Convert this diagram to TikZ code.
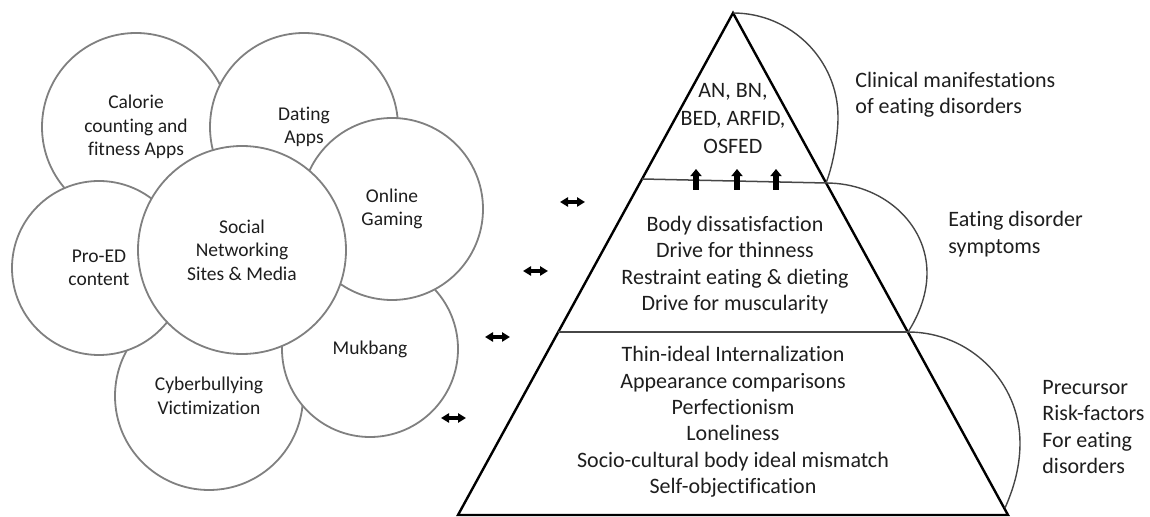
\documentclass[tikz,border=0pt]{standalone}
\usepackage{fontspec}
\setmainfont{Carlito}[Ligatures={NoCommon}]
\usetikzlibrary{arrows.meta}
\definecolor{circ}{RGB}{128,128,128}
\definecolor{txt}{RGB}{30,30,30}
\definecolor{arcc}{RGB}{70,70,70}
\begin{document}
\begin{tikzpicture}[x=0.5pt,y=-0.5pt,
  bubble/.style={circle,draw=circ,fill=white,line width=0.9pt,inner sep=0pt,align=center,text=txt,font=\fontsize{9.75}{11.75}\selectfont},
  lvl/.style={align=center,text=txt,inner sep=0pt,font=\fontsize{11}{13.2}\selectfont},
  lbl/.style={anchor=west,align=left,text=txt,inner sep=0pt,font=\fontsize{11}{13.2}\selectfont},
  dbl/.style={line width=2pt,{Triangle[length=4pt,width=4.6pt]}-{Triangle[length=4pt,width=4.6pt]}},
  uparr/.style={line width=3pt,-{Triangle[length=3.6pt,width=5.6pt]}},
  pyr/.style={line width=1.2pt,black},
  divl/.style={line width=0.75pt,arcc},
  sidearc/.style={line width=0.7pt,arcc}]
\useasboundingbox (0,0) rectangle (1150,517);
% circles
\node[bubble,minimum size=94pt] (cal) at (136,127) {Calorie\\counting and\\fitness Apps};
\node[bubble,minimum size=94pt] (dat) at (304,127) {Dating\\Apps};
\node[bubble,minimum size=94pt] (cyb) at (209,396) {Cyberbullying\\Victimization};
\node[bubble,minimum size=87pt] (pro) at (99,268) {Pro-ED\\content};
\node[bubble,minimum size=88pt] (muk) at (370,349) {Mukbang};
\node[bubble,minimum size=91pt] (onl) at (392,209) {Online\\Gaming};
\node[bubble,minimum size=104pt] (soc) at (242,250) {Social\\Networking\\Sites \& Media};
% pyramid
\coordinate (apex) at (733,13);
\coordinate (bl) at (458,515);
\coordinate (br) at (1008,515);
\coordinate (d1l) at (642,179);
\coordinate (d1r) at (826,183);
\coordinate (d2l) at (558,332);
\coordinate (d2r) at (908,332);
\coordinate (e3) at (1005,508);
\draw[pyr] (apex) -- (bl) -- (br) -- cycle;
\draw[divl] (d1l) -- (d1r);
\draw[divl] (d2l) -- (d2r);
% side arcs
\coordinate (r1) at (838,117);
\coordinate (r2) at (927,273);
\coordinate (r3) at (1020,443);
\draw[sidearc] (apex) .. controls (791,13) and (838,60) .. (r1) .. controls (838,140) and (832,168) .. (d1r);
\draw[sidearc] (d1r) .. controls (882,183) and (927,223) .. (r2) .. controls (927,297) and (917,318) .. (d2r);
\draw[sidearc] (d2r) .. controls (970,332) and (1020,382) .. (r3) .. controls (1020,470) and (1012,492) .. (e3);
% pyramid texts
\node[lvl,font=\fontsize{11}{14}\selectfont] (t1) at (733,119) {AN, BN,\\BED, ARFID,\\OSFED};
\node[lvl] (t2) at (735,265) {Body dissatisfaction\\Drive for thinness\\Restraint eating \& dieting\\Drive for muscularity};
\node[lvl] (t3) at (733,422) {Thin-ideal Internalization\\Appearance comparisons\\Perfectionism\\Loneliness\\Socio-cultural body ideal mismatch\\Self-objectification};
% labels
\node[lbl] (l1) at (855,95) {Clinical manifestations\\of eating disorders};
\node[lbl] (l2) at (948,234) {Eating disorder\\symptoms};
\node[lbl] (l3) at (1042,427) {Precursor\\Risk-factors\\For eating\\disorders};
% double arrows
\coordinate (a1l) at (560,202); \coordinate (a1r) at (585,202);
\coordinate (a2l) at (523,271); \coordinate (a2r) at (548,271);
\coordinate (a3l) at (485,337); \coordinate (a3r) at (510,337);
\coordinate (a4l) at (441,418); \coordinate (a4r) at (466,418);
\draw[dbl] (a1l) -- (a1r);
\draw[dbl] (a2l) -- (a2r);
\draw[dbl] (a3l) -- (a3r);
\draw[dbl] (a4l) -- (a4r);
% up arrows
\coordinate (u1b) at (696,190); \coordinate (u1t) at (696,169);
\coordinate (u2b) at (737,190); \coordinate (u2t) at (737,169);
\coordinate (u3b) at (776,190); \coordinate (u3t) at (776,169);
\draw[uparr] (u1b) -- (u1t);
\draw[uparr] (u2b) -- (u2t);
\draw[uparr] (u3b) -- (u3t);
\end{tikzpicture}
\end{document}
